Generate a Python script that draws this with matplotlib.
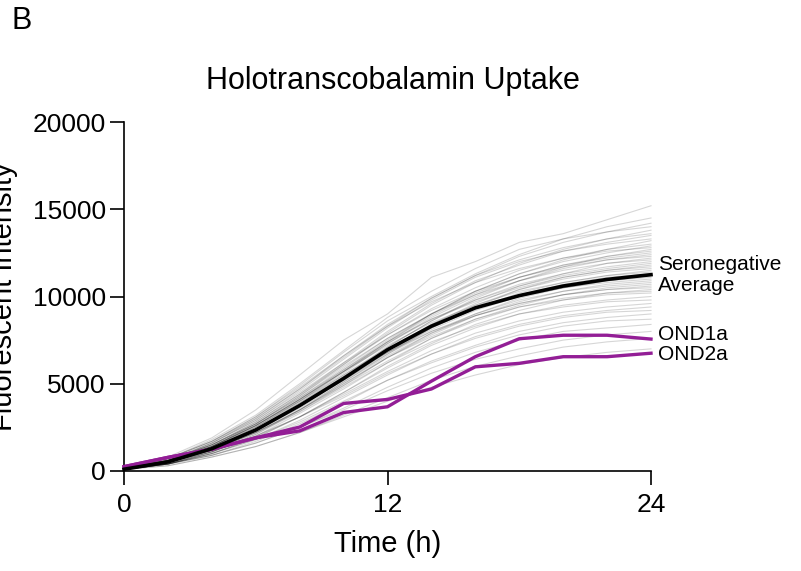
import matplotlib
matplotlib.use("Agg")
import matplotlib.pyplot as plt
import matplotlib.transforms as mtransforms
import numpy as np

plt.rcParams['font.family'] = ['Liberation Sans', 'DejaVu Sans']

# ---------------- data ----------------
time_h = [0, 2, 4, 6, 8, 10, 12, 14, 16, 18, 20, 22, 24]

# individual seronegative donors (fluorescent intensity / 100)
seroneg_individual_x100 = [
    [2, 8, 19, 35, 55, 75, 90, 111, 120, 131, 136, 144, 152],
    [1, 7, 17, 31, 49, 68, 86, 100, 113, 124, 133, 140, 145],
    [2, 6, 16, 30, 47, 66, 84, 99, 112, 123, 131, 137, 142],
    [1, 7, 18, 32, 50, 69, 88, 103, 116, 127, 133, 137, 140],
    [1, 5, 14, 27, 43, 61, 79, 95, 108, 119, 127, 133, 138],
    [2, 7, 17, 30, 47, 65, 83, 99, 112, 121, 128, 133, 136],
    [1, 6, 15, 28, 44, 62, 80, 96, 109, 118, 126, 131, 135],
    [1, 6, 16, 29, 46, 64, 82, 98, 111, 120, 126, 130, 133],
    [2, 5, 13, 25, 40, 57, 74, 90, 103, 113, 121, 127, 132],
    [1, 6, 15, 28, 44, 61, 78, 93, 105, 115, 122, 127, 130],
    [1, 5, 14, 26, 41, 58, 75, 90, 103, 113, 120, 125, 129],
    [2, 7, 17, 31, 48, 66, 83, 97, 108, 116, 122, 126, 128],
    [1, 5, 13, 24, 38, 54, 71, 86, 99, 109, 117, 123, 127],
    [1, 6, 15, 27, 42, 59, 76, 90, 102, 111, 118, 123, 126],
    [2, 6, 14, 26, 41, 57, 74, 89, 101, 111, 118, 122, 125],
    [1, 5, 13, 25, 40, 56, 73, 88, 100, 109, 116, 121, 124],
    [1, 6, 16, 29, 45, 62, 78, 92, 103, 111, 117, 121, 123],
    [1, 5, 12, 23, 37, 53, 69, 84, 96, 106, 113, 119, 122],
    [2, 6, 15, 27, 43, 60, 76, 90, 101, 109, 115, 119, 121],
    [1, 5, 13, 24, 39, 55, 71, 86, 98, 107, 113, 117, 120],
    [1, 6, 14, 26, 41, 57, 73, 87, 98, 106, 112, 116, 119],
    [1, 4, 11, 21, 35, 51, 67, 82, 94, 104, 111, 115, 118],
    [2, 6, 15, 27, 42, 58, 74, 87, 97, 105, 111, 115, 117],
    [1, 5, 13, 24, 38, 54, 70, 84, 95, 104, 110, 114, 116],
    [1, 5, 12, 23, 37, 52, 68, 82, 93, 102, 108, 112, 115],
    [1, 6, 14, 26, 41, 57, 72, 85, 95, 103, 108, 112, 114],
    [2, 5, 13, 24, 38, 53, 69, 82, 93, 101, 107, 111, 113],
    [1, 4, 11, 21, 34, 49, 65, 79, 90, 99, 105, 109, 112],
    [1, 5, 13, 24, 38, 53, 68, 81, 92, 100, 105, 109, 111],
    [1, 6, 14, 26, 40, 55, 70, 83, 93, 100, 105, 108, 110],
    [2, 5, 12, 22, 35, 50, 65, 78, 89, 97, 103, 107, 109],
    [1, 5, 13, 24, 37, 52, 67, 80, 90, 98, 103, 106, 108],
    [1, 4, 11, 20, 33, 47, 62, 76, 87, 95, 101, 105, 107],
    [1, 5, 13, 23, 36, 51, 66, 79, 89, 96, 101, 104, 106],
    [2, 6, 14, 25, 39, 54, 68, 80, 89, 96, 101, 104, 105],
    [1, 4, 10, 19, 31, 45, 60, 73, 84, 92, 98, 102, 104],
    [1, 5, 12, 22, 35, 49, 63, 76, 86, 94, 99, 102, 103],
    [1, 5, 12, 22, 35, 50, 65, 77, 87, 94, 98, 101, 102],
    [1, 4, 10, 19, 31, 45, 59, 72, 82, 90, 95, 98, 100],
    [1, 5, 12, 22, 34, 48, 62, 74, 83, 90, 94, 97, 98],
    [2, 5, 11, 20, 31, 44, 57, 69, 79, 86, 91, 94, 96],
    [1, 4, 10, 18, 29, 42, 55, 67, 77, 84, 89, 92, 94],
    [1, 5, 11, 20, 31, 43, 56, 67, 76, 83, 88, 91, 92],
    [1, 4, 9, 17, 27, 39, 52, 63, 72, 80, 85, 88, 90],
    [1, 4, 10, 18, 28, 40, 52, 62, 71, 78, 83, 86, 87],
    [1, 4, 9, 16, 25, 36, 48, 59, 68, 75, 80, 82, 84],
    [1, 4, 9, 16, 25, 35, 46, 56, 64, 70, 75, 78, 80],
    [1, 3, 8, 14, 22, 32, 42, 52, 60, 66, 71, 74, 76],
    [1, 3, 8, 14, 22, 31, 40, 48, 55, 61, 65, 68, 70],
]

seroneg_average = [100, 520, 1280, 2350, 3750, 5300, 6950, 8300, 9350, 10050, 10600, 10980, 11250]
ond1a = [250, 780, 1250, 1900, 2300, 3350, 3680, 5150, 6550, 7580, 7780, 7780, 7560]
ond2a = [250, 780, 1250, 1900, 2520, 3870, 4100, 4700, 5970, 6170, 6550, 6550, 6750]

x_ticks = [0, 12, 24]
y_ticks = [0, 5000, 10000, 15000, 20000]

# ---------------- figure ----------------
W, H = 801, 571
fig = plt.figure(figsize=(W / 100, H / 100), dpi=100)
ax = fig.add_axes([124 / W, (H - 471) / H, 527 / W, 349 / H])

purple = '#931E96'

for row in seroneg_individual_x100:
    ax.plot(time_h, np.array(row) * 100, color='black', alpha=0.16, lw=0.8,
            solid_joinstyle='round', clip_on=False, zorder=1)

ax.plot(time_h, ond1a, color=purple, lw=2.4, clip_on=False, zorder=3)
ax.plot(time_h, ond2a, color=purple, lw=2.4, clip_on=False, zorder=3)
ax.plot(time_h, seroneg_average, color='black', lw=2.6, clip_on=False, zorder=4)

ax.set_xlim(0, 24)
ax.set_ylim(0, 20000)
ax.set_xticks(x_ticks)
ax.set_yticks(y_ticks)
ax.tick_params(axis='both', direction='out', length=10, width=1.2,
               labelsize=19, color='black')
ax.tick_params(axis='x', pad=6)
ax.tick_params(axis='y', pad=3)
for s in ['top', 'right']:
    ax.spines[s].set_visible(False)
for s in ['left', 'bottom']:
    ax.spines[s].set_linewidth(1.2)

ax.set_xlabel('Time (h)', fontsize=21, labelpad=9)
ax.set_title('Holotranscobalamin Uptake', fontsize=22, pad=24, x=0.51)

fig.text(4 / W, (H - 297) / H, 'Fluorescent Intensity', rotation=90,
         ha='center', va='center', fontsize=21)
fig.text(11 / W, 1 - 21 / H, 'B', ha='left', va='center', fontsize=22)

trans = mtransforms.blended_transform_factory(ax.transAxes, ax.transData)
ax.text(1.013, 11230, 'Seronegative\nAverage', transform=trans, ha='left',
        va='center', fontsize=15, linespacing=1.15)
ax.text(1.013, 7850, 'OND1a', transform=trans, ha='left', va='center', fontsize=15)
ax.text(1.013, 6650, 'OND2a', transform=trans, ha='left', va='center', fontsize=15)

fig.savefig('out.png', dpi=100)
